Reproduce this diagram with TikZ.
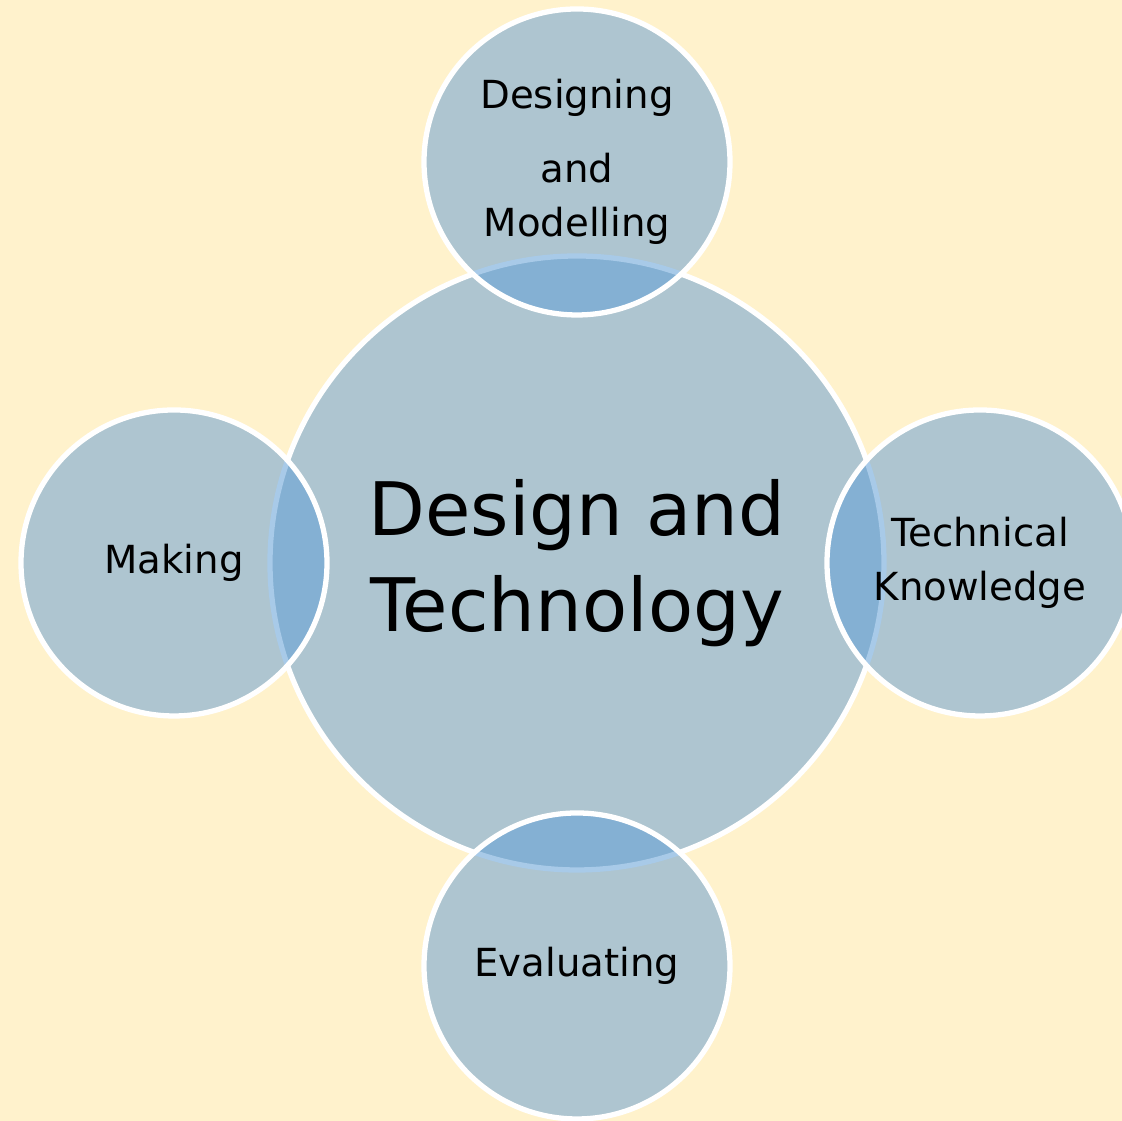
\documentclass[tikz,border=0pt]{standalone}
\usepackage{fontspec}
\setmainfont{DejaVu Sans}
\usepackage{tikz}
\usepgflibrary{shapes}

\definecolor{paper}{HTML}{FFF2CC}
\definecolor{ringfill}{HTML}{AEC5D0}
\definecolor{overlapfill}{HTML}{84B0D3}
\definecolor{paleline}{HTML}{A8CAE8}

\begin{document}
\begin{tikzpicture}[
    hub/.style={circle, minimum size=6.14cm, fill=ringfill, draw=white, line width=1.5pt,
      align=center, font=\fontsize{21}{27.5}\selectfont},
    spoke/.style={circle, minimum size=3.06cm, fill=ringfill, draw=white, line width=1.5pt,
      align=center, font=\fontsize{11}{15.4}\selectfont,
      path picture={\fill[overlapfill] (dt.center) circle (3.07cm);
        \draw[paleline, line width=1.5pt] (dt.center) circle (3.07cm);}}
  ]
      \fill[paper] (0,0) rectangle (11.22,11.21);
      \useasboundingbox (0,0) rectangle (11.22,11.21);
      \node[name=dt, hub] at (5.77,5.58) {Design and\\Technology};
      \node[name=dm, spoke] at (5.77,9.59) {Designing\\[5.7pt]and\\Modelling};
      \node[name=mk, spoke] at (1.74,5.58) {Making};
      \node[name=tk, spoke] at (9.80,5.58) {Technical\\Knowledge};
      \node[name=ev, spoke] at (5.77,1.55) {Evaluating};
    \end{tikzpicture}
\end{document}
